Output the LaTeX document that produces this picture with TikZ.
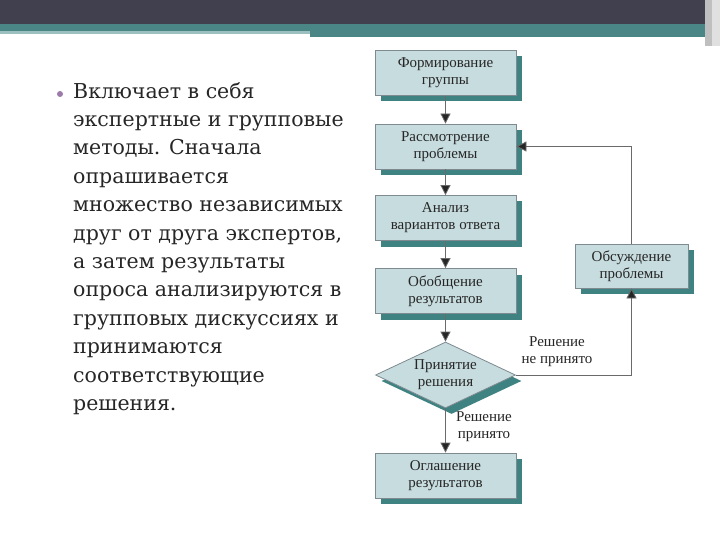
\documentclass[tikz,border=0pt]{standalone}
\usepackage{fontspec}
\setmainfont{Liberation Serif}
\newfontfamily\bodyfont{DejaVu Serif}
\usepackage{tikz}
\usetikzlibrary{shapes.geometric,shadows,arrows.meta}
\definecolor{barDark}{HTML}{40404F}
\definecolor{barTeal}{HTML}{4A8686}
\definecolor{barLight}{HTML}{9CC0C0}
\definecolor{boxFill}{HTML}{C7DCDF}
\definecolor{boxLine}{HTML}{7E8A90}
\definecolor{boxShadow}{HTML}{3E8282}
\definecolor{flowLine}{HTML}{6A6A6A}
\definecolor{bulletPurple}{HTML}{9C7BAA}

\begin{document}
\begin{tikzpicture}[x=1pt,y=-1pt]
\tikzset{
  every node/.style={inner sep=0pt, text=black!85},
  stage/.style={rectangle, draw=boxLine, fill=boxFill, line width=0.8pt,
    minimum width=141pt, minimum height=45pt, align=center,
    font=\fontsize{15}{17}\selectfont,
    drop shadow={shadow xshift=6pt, shadow yshift=-6pt, fill=boxShadow, opacity=1}},
  choice/.style={diamond, draw=boxLine, fill=boxFill, line width=0.8pt, aspect=2.1,
    minimum width=140pt, minimum height=66pt, align=center,
    font=\fontsize{15}{17}\selectfont,
    drop shadow={shadow xshift=6pt, shadow yshift=-6pt, fill=boxShadow, opacity=1}},
  note/.style={align=center, font=\fontsize{15}{17}\selectfont},
  flow/.style={draw=flowLine, line width=0.8pt, -{Triangle[length=10pt,width=10pt,fill=black!85]}}
}
\useasboundingbox (0,0) rectangle (720,540);
\fill [white] (0,0) rectangle (720,540);
\fill [barDark] (0,0) rectangle (720,24);
\fill [barTeal] (0,24) rectangle (705,31);
\fill [barLight] (0,31) rectangle (310,34);
\fill [barTeal] (310,31) rectangle (705,37);
\fill [black!25] (705,0) rectangle (712,46);
\fill [black!12] (712,0) rectangle (720,46);

\node [circle, fill=bulletPurple, minimum size=6pt] (dot) at (60,94) {};
\node [anchor=north west, align=left, font=\bodyfont\fontsize{20.5}{28.4}\selectfont] (body) at (73,82)
  {Включает в себя\\экспертные и групповые\\методы. Сначала\\опрашивается\\множество независимых\\друг от друга экспертов,\\а затем результаты\\опроса анализируются в\\групповых дискуссиях и\\принимаются\\соответствующие\\решения.};

\node [stage] (form) at (445.5,73) {Формирование\\группы};
\node [stage] (review) at (445.5,146.5) {Рассмотрение\\проблемы};
\node [stage] (analysis) at (445.5,218) {Анализ\\вариантов ответа};
\node [stage] (summary) at (445.5,291) {Обобщение\\результатов};
\node [choice] (decide) at (445.5,375) {Принятие\\решения};
\node [stage] (announce) at (445.5,475.5) {Оглашение\\результатов};
\node [stage, minimum width=113pt, minimum height=44pt] (discuss) at (631.5,266) {Обсуждение\\проблемы};

\draw [flow] (form) -- (review);
\draw [flow] (review) -- (analysis);
\draw [flow] (analysis) -- (summary);
\draw [flow] (summary) -- (decide);
\draw [flow] (decide) -- (announce);
\draw [flow] (decide.east) -| (discuss.south);
\draw [flow] (discuss.north) |- (review.east);

\node [note] (fail) at (557,352) {Решение\\не принято};
\node [note] (pass) at (484,427) {Решение\\принято};
\end{tikzpicture}
\end{document}
